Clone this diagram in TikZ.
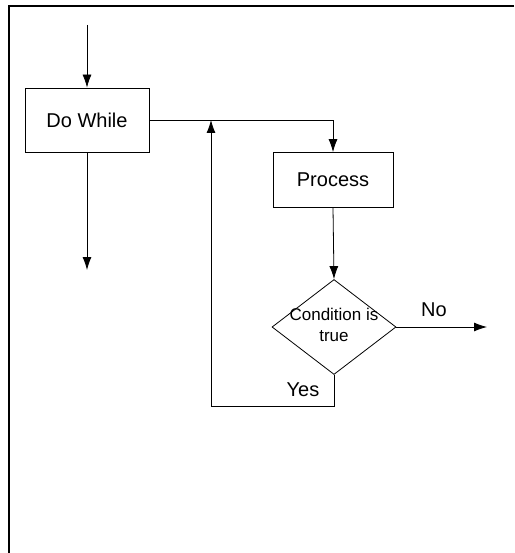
\documentclass[tikz,border=0pt]{standalone}
\usepackage{fontspec}
\setmainfont{Liberation Sans}
\usetikzlibrary{arrows.meta}
\usetikzlibrary{shapes.geometric}
\tikzset{
  box/.style={draw,line width=0.8pt,minimum width=124pt,minimum height=64pt,inner sep=0pt,font=\fontsize{20}{24}\selectfont},
  decision/.style={draw,diamond,line width=0.8pt,minimum width=124pt,minimum height=95pt,inner sep=0pt},
  flow/.style={line width=0.8pt},
  lbl/.style={inner sep=0pt,font=\fontsize{20}{24}\selectfont}
}

\begin{document}
\begin{tikzpicture}[x=1pt,y=1pt,>={Latex[length=13pt,width=9pt]}]
        \useasboundingbox (0,0) rectangle (514,-553);
        \draw[line width=2.4pt] (514,-6) -- (9,-6) -- (9,-553);
        % main column
        \coordinate (start) at (87,-25);
        \node[box] (dowhile) at (87,-120) {Do While};
        \coordinate (exit) at (87,-270);
        % loop body
        \node[box,minimum width=120pt,minimum height=55pt] (process) at (333,-180) {Process};
        \node[decision] (cond) at (334,-327) {};
        \node[align=center,inner sep=0pt,font=\fontsize{17}{21}\selectfont] (condtext) at (334,-325) {Condition is\\true};
        \coordinate (noend) at (487,-327);
        \coordinate (loopbot) at (211,-406);
        \coordinate (join) at (211,-120);
        % connectors
        \draw[flow,->] (start) -- (dowhile.north);
        \draw[flow,->] (dowhile.south) -- (exit);
        \draw[flow,->] (dowhile.east) -| (process.north);
        \draw[flow,->] (process.south) -- (cond.north);
        \draw[flow,->] (cond.east) -- (noend);
        \draw[flow,->] (cond.south) |- (loopbot) -- (join);
        % labels
        \node[lbl] (nolbl) at (434,-310) {No};
        \node[lbl] (yeslbl) at (303,-390) {Yes};
\end{tikzpicture}
\end{document}
